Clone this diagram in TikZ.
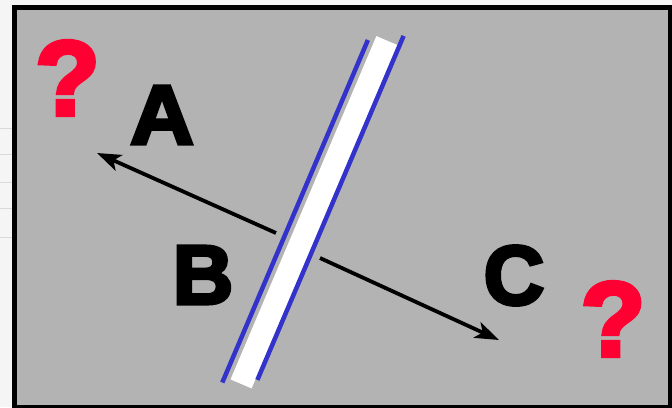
\documentclass[tikz,border=0pt]{standalone}
\usepackage{fontspec}
\newfontfamily\heavy[FakeBold=4]{Liberation Sans Bold}
\usetikzlibrary{arrows.meta}
\definecolor{bg}{HTML}{B3B3B3}
\definecolor{outside}{HTML}{F5F5F5}
\definecolor{faint}{HTML}{DADADA}
\definecolor{qred}{HTML}{FF0033}
\definecolor{slabblue}{HTML}{3333CC}
\begin{document}
\begin{tikzpicture}[x=1pt,y=-1pt,
  lbl/.style={font=\heavy\fontsize{84}{84}\selectfont, inner sep=0pt, text=black},
  qm/.style={font=\heavy\fontsize{106}{106}\selectfont, inner sep=0pt, text=qred},
  ray/.style={line width=3.8pt, -{Stealth[length=24pt,width=17pt,inset=6pt]}},
  slabedge/.style={slabblue, line width=4.5pt}]
\useasboundingbox (0,0) rectangle (672,407);
\fill[outside] (0,0) rectangle (672,407);
\foreach \yy in {128,154,182,208,237}{\draw[faint, line width=0.8pt] (0,\yy) -- (12,\yy);}
\fill[bg] (14.5,7.5) rectangle (670.5,407.5);
\draw[line width=5pt] (14.5,7.5) rectangle (670.5,407.5);
% slab
\fill[white] (376.4,36.1) -- (397.5,45.1) -- (251.6,388.4) -- (230.5,379.4) -- cycle;
\draw[slabedge] (367.9,40.0) -- (222.3,382.5);
\draw[slabedge] (403.6,35.9) -- (257.4,379.9);
% rays
\coordinate (r1s) at (276,233);
\coordinate (r1e) at (97,153);
\coordinate (r2s) at (320,258);
\coordinate (r2e) at (499,340);
\draw[ray] (r1s) -- (r1e);
\draw[ray] (r2s) -- (r2e);
% labels
\node[lbl, xscale=1.05] (A) at (162,115) {A};
\node[lbl] (B) at (203,275) {B};
\node[lbl] (C) at (514,275.5) {C};
\node[qm] (q1) at (67.5,78) {?};
\node[qm] (q2) at (613,319) {?};
\end{tikzpicture}
\end{document}
